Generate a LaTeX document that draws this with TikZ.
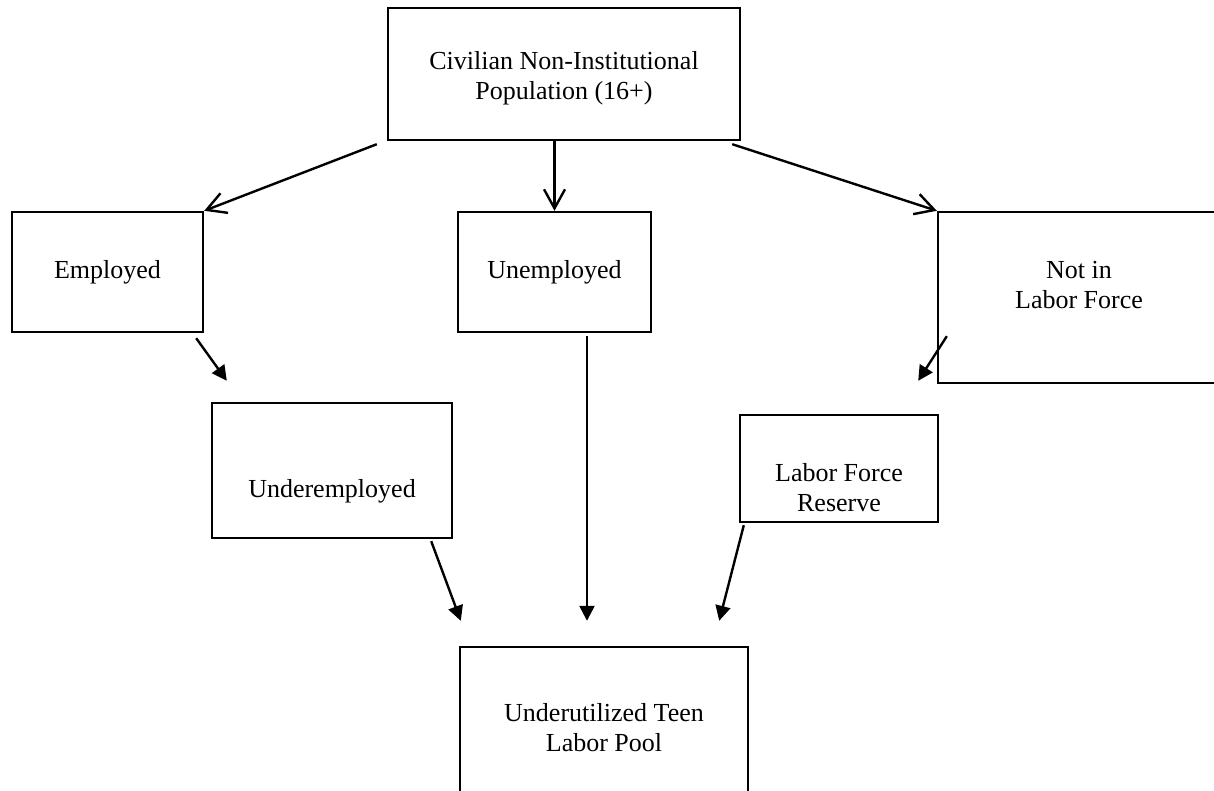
\documentclass[tikz,border=0pt]{standalone}
\usepackage{fontspec}
\setmainfont{Liberation Serif}
\usetikzlibrary{arrows.meta,calc}

\tikzset{
  box/.style={draw, line width=1.2pt, inner sep=0pt, align=center,
    font=\fontsize{13}{15}\selectfont},
  barb/.style={line width=1.2pt, -{Straight Barb[length=9.5pt,width=10.5pt]}},
  tri/.style={line width=1.2pt, -{Triangle[length=7.5pt,width=7.5pt]}},
}

\begin{document}
\begin{tikzpicture}[x=0.5pt, y=-0.5pt]
    \useasboundingbox (0,0) rectangle (1214,791);
    \clip (0,0) rectangle (1214,791);

    \node[box, minimum width=176pt, minimum height=66pt, text height=28pt] (pop) at (564,74)
      {Civilian Non-Institutional\\Population (16+)};
    \node[box, minimum width=95.5pt, minimum height=60pt] (emp) at (107.5,272) {Employed};
    \node[box, minimum width=96.5pt, minimum height=60pt] (unemp) at (554.5,272) {Unemployed};
    \node[box, minimum width=141pt, minimum height=85.5pt, text depth=13pt] (nilf) at (1079,297.5)
      {Not in\\Labor Force};
    \node[box, minimum width=120pt, minimum height=67.5pt, text height=30pt] (under) at (332,470.5)
      {Underemployed};
    \node[box, minimum width=99pt, minimum height=53.5pt, text height=43.5pt] (lfr) at (839,468.5)
      {Labor Force\\Reserve};
    \node[box, minimum width=144pt, minimum height=81pt] (pool) at (604,728)
      {Underutilized Teen\\Labor Pool};

    \draw[barb] ($(pop.south west)+(-10,3)$) -- (emp.north east);
    \draw[barb] (pop.south -| unemp.north) -- (unemp.north);
    \draw[barb] ($(pop.south east)+(-9,3)$) -- (nilf.north west);

    \draw[tri] ($(emp.south east)+(-8,5)$) -- ($(under.north west)+(16,-21)$);
    \draw[tri] ($(nilf.south west)+(10,-48)$) -- ($(lfr.north east)+(-21,-33)$);

    \draw[tri] ($(under.south east)+(-22,2)$) -- ($(pool.north west)+(2,-25)$);
    \draw[tri] ($(unemp.south)+(32.5,3)$) -- ($(pool.north)+(-17,-25)$);
    \draw[tri] ($(lfr.south west)+(5,2)$) -- ($(pool.north east)+(-30,-25)$);
\end{tikzpicture}
\end{document}
